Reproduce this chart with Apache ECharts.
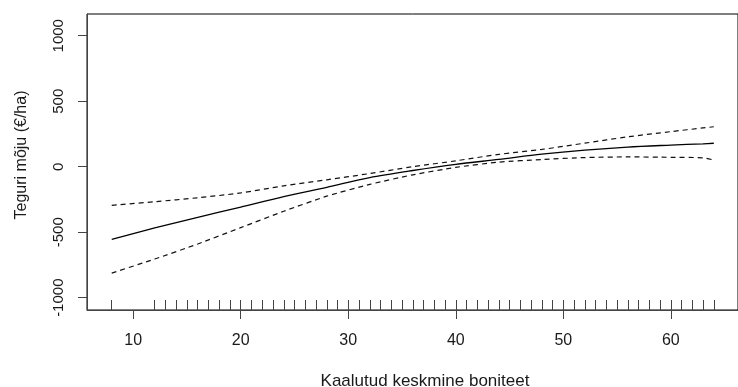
<!DOCTYPE html>
<html>
<head>
<meta charset="utf-8">
<script src="https://cdn.jsdelivr.net/npm/echarts@6/dist/echarts.min.js"></script>
<style>
  html, body { margin: 0; padding: 0; background: #fff; }
  #chart { width: 738px; height: 387px; }
</style>
</head>
<body>
<div id="chart"></div>
<script>
// Smooth term of the model: estimated effect with ±2 SE band
const xTicks = [10, 20, 30, 40, 50, 60];
const yTicks = [-1000, -500, 0, 500, 1000];
const gridX  = [8, 12, 16, 20, 24, 28, 32, 36, 40, 44, 48, 52, 56, 60, 63, 64];
const fitY   = [-554, -467, -387, -308, -228, -157, -83, -29, 18, 56, 96, 127, 150, 165, 175, 179];
const upperY = [-295, -267, -237, -200, -146, -100, -52, 0, 45, 94, 132, 180, 228, 268, 296, 305];
const lowerY = [-812, -705, -590, -465, -340, -225, -135, -62, -5, 35, 55, 70, 75, 72, 68, 51];
// Observed covariate values (rug)
const rugX = [8, 12, 13, 14, 15, 16, 17, 18, 19, 20, 21, 22, 23, 24, 25, 26, 27, 28, 29, 30,
              31, 32, 33, 34, 35, 36, 37, 38, 39, 40, 41, 42, 43, 44, 45, 46, 47, 48, 49, 50,
              51, 52, 53, 54, 55, 56, 57, 58, 59, 60, 61, 62, 63, 64];

const xTitle = 'Kaalutud keskmine boniteet';
const yTitle = 'Teguri mõju (€/ha)';

const FONT = '"Liberation Sans", Arial, sans-serif';
const AXIS_COLOR = '#444';
const TEXT_COLOR = '#1a1a1a';

const pairs = ys => gridX.map((x, i) => [x, ys[i]]);

const chart = echarts.init(document.getElementById('chart'), null, { renderer: 'canvas' });

chart.setOption({
  animation: false,
  backgroundColor: '#fff',
  grid: {
    left: 87, top: 14, width: 655, height: 296,
    show: true, borderColor: '#000', borderWidth: 1, backgroundColor: 'transparent'
  },
  xAxis: [
    {
      type: 'value', min: 5.7, max: 66.25,
      axisLine: { show: true, onZero: false, lineStyle: { color: AXIS_COLOR, width: 1 } },
      axisTick: { show: true, length: 9, customValues: xTicks, lineStyle: { color: AXIS_COLOR } },
      axisLabel: { show: true, customValues: xTicks, margin: 23, fontSize: 16, fontFamily: FONT, color: TEXT_COLOR,
                   formatter: v => String(v) },
      splitLine: { show: false }
    },
    {
      // rug of observed values, drawn as inward ticks
      type: 'value', min: 5.7, max: 66.25, position: 'bottom',
      axisLine: { show: false, onZero: false },
      axisTick: { show: true, inside: true, length: 10, customValues: rugX, lineStyle: { color: AXIS_COLOR } },
      axisLabel: { show: false },
      splitLine: { show: false }
    }
  ],
  yAxis: {
    type: 'value', min: -1094, max: 1166,
    axisLine: { show: true, onZero: false, lineStyle: { color: AXIS_COLOR, width: 1 } },
    axisTick: { show: true, length: 9, customValues: yTicks, lineStyle: { color: AXIS_COLOR } },
    axisLabel: { show: true, customValues: yTicks, rotate: 90, margin: 21, fontSize: 15, fontFamily: FONT, color: TEXT_COLOR,
                 formatter: v => String(v) },
    splitLine: { show: false }
  },
  series: [
    {
      name: 'upper', type: 'line', data: pairs(upperY), showSymbol: false, smooth: 0.3,
      lineStyle: { color: '#111', width: 1.2, type: [5, 4] }
    },
    {
      name: 'lower', type: 'line', data: pairs(lowerY), showSymbol: false, smooth: 0.2,
      lineStyle: { color: '#111', width: 1.2, type: [5, 4] }
    },
    {
      name: 'fit', type: 'line', data: pairs(fitY), showSymbol: false, smooth: 0.3,
      lineStyle: { color: '#000', width: 1.3 }
    }
  ],
  graphic: [
    {
      type: 'text', x: 425, y: 381,
      style: { text: xTitle, fontSize: 17, fontFamily: FONT, fill: TEXT_COLOR, align: 'center', verticalAlign: 'middle' }
    },
    {
      type: 'text', x: 22, y: 155, rotation: Math.PI / 2,
      style: { text: yTitle, fontSize: 16, fontFamily: FONT, fill: TEXT_COLOR, align: 'center', verticalAlign: 'middle' }
    }
  ]
});
</script>
</body>
</html>
